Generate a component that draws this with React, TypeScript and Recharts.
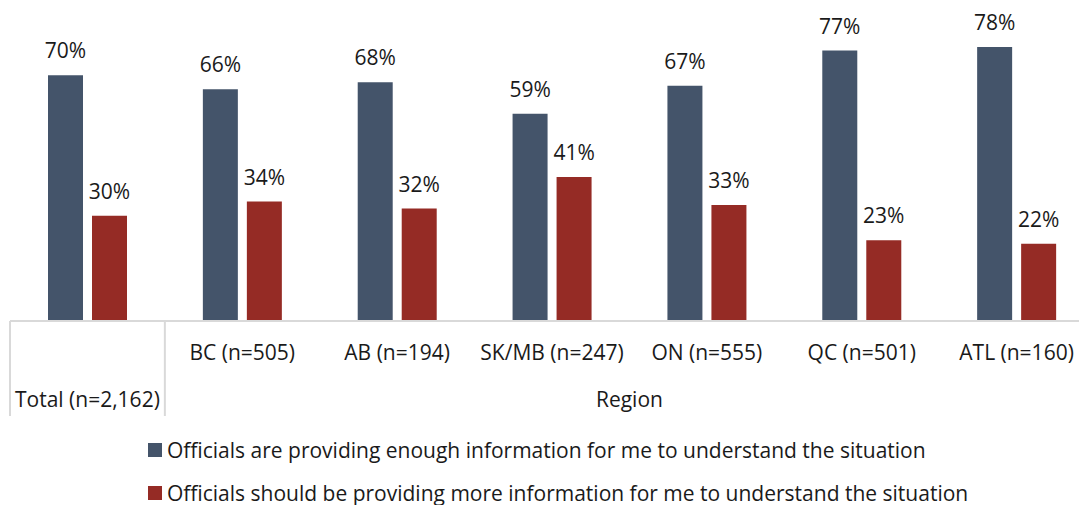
import React from 'react';
import { BarChart, Bar, XAxis, YAxis, LabelList } from 'recharts';

const categories = ['Total (n=2,162)', 'BC (n=505)', 'AB (n=194)', 'SK/MB (n=247)', 'ON (n=555)', 'QC (n=501)', 'ATL (n=160)'];
const enoughInfo = [70, 66, 68, 59, 67, 77, 78];
const moreInfo = [30, 34, 32, 41, 33, 23, 22];
const seriesNames = [
  'Officials are providing enough information for me to understand the situation',
  'Officials should be providing more information for me to understand the situation',
];
const groupLabel = 'Region';

const COLORS = ['#44546A', '#952B25'];
const FONT = '"Open Sans", sans-serif';
const TEXT = '#1a1a1a';
const GRID = '#d9d9d9';

const data = categories.map((name, i) => ({ name, enough: enoughInfo[i], more: moreInfo[i] }));

function CategoryTick(props: any) {
  const { x, y, payload, index } = props;
  const half = payload?.offset || 77.4;
  if (index === 0) {
    // first category sits in its own box; the region label spans the other six
    return (
      <g>
        <line x1={x - half} x2={x - half} y1={y} y2={y + 95} stroke={GRID} strokeWidth={2} />
        <line x1={x + half} x2={x + half} y1={y} y2={y + 95} stroke={GRID} strokeWidth={2} />
        <text x={x} y={y + 86} textAnchor="middle" fontSize={21} fontFamily={FONT} fill={TEXT}>
          {payload.value}
        </text>
        <text x={x + half * 7} y={y + 86} textAnchor="middle" fontSize={21} fontFamily={FONT} fill={TEXT}>
          {groupLabel}
        </text>
      </g>
    );
  }
  return (
    <text x={x} y={y + 39} textAnchor="middle" fontSize={21} fontFamily={FONT} fill={TEXT}>
      {payload.value}
    </text>
  );
}

export default function App() {
  return (
    <div style={{ position: 'absolute', left: 0, top: 0, width: 1079, height: 505, overflow: 'hidden', background: '#fff' }}>
      <BarChart
        width={1094}
        height={505}
        data={data}
        margin={{ top: 0, right: 0, left: 10, bottom: 0 }}
        barGap={9}
        barSize={35}
      >
        <XAxis
          dataKey="name"
          height={184}
          interval={0}
          tickLine={false}
          tickSize={0}
          tickMargin={0}
          axisLine={{ stroke: GRID, strokeWidth: 2 }}
          tick={<CategoryTick />}
        />
        <YAxis hide domain={[0, 91.4]} />
        <Bar dataKey="enough" fill={COLORS[0]} isAnimationActive={false}>
          <LabelList dataKey="enough" position="top" offset={17} formatter={(v: any) => `${v}%`} style={{ fontSize: 21, fontFamily: FONT, fill: TEXT }} />
        </Bar>
        <Bar dataKey="more" fill={COLORS[1]} isAnimationActive={false}>
          <LabelList dataKey="more" position="top" offset={17} formatter={(v: any) => `${v}%`} style={{ fontSize: 21, fontFamily: FONT, fill: TEXT }} />
        </Bar>
      </BarChart>
      <div style={{ position: 'absolute', left: 148, top: 428, fontFamily: FONT, fontSize: 21, color: TEXT }}>
        {seriesNames.map((name, i) => (
          <div key={name} style={{ display: 'flex', alignItems: 'center', height: 43, whiteSpace: 'nowrap' }}>
            <span style={{ width: 14, height: 14, background: COLORS[i], marginRight: 5, display: 'inline-block' }} />
            <span>{name}</span>
          </div>
        ))}
      </div>
    </div>
  );
}
